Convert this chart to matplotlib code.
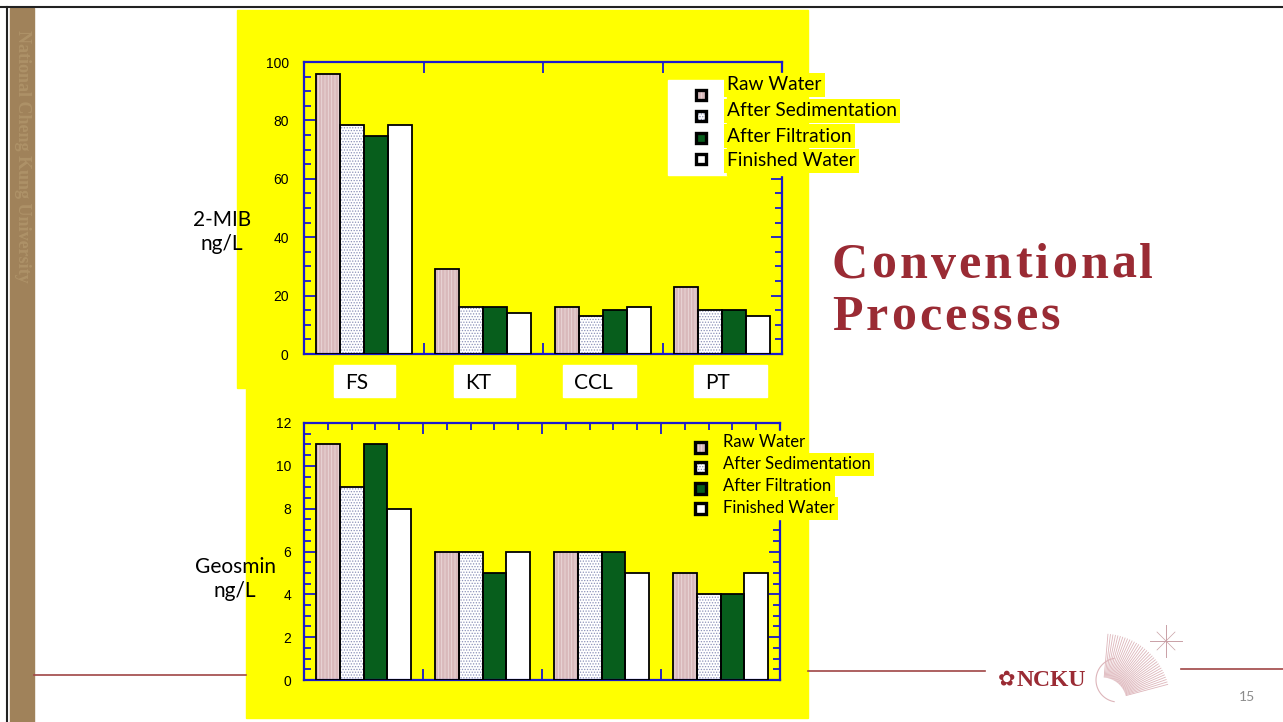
import numpy as np
import matplotlib.pyplot as plt
from matplotlib.patches import Rectangle
from matplotlib.ticker import MultipleLocator
from matplotlib.font_manager import FontProperties, findfont, get_font

W, H = 1283, 722

# data
sites = ['FS', 'KT', 'CCL', 'PT']
series = ['Raw Water', 'After Sedimentation', 'After Filtration', 'Finished Water']
mib_raw = [96, 29, 16, 23]
mib_sed = [78.5, 16, 13, 15]
mib_filt = [74.5, 16, 15, 15]
mib_fin = [78.5, 14, 16, 13]
geo_raw = [11, 6, 6, 5]
geo_sed = [9, 6, 6, 4]
geo_filt = [11, 5, 6, 4]
geo_fin = [8, 6, 5, 5]

# (face, hatch, hatch colour)
styles = [('#D9B9BB', '|||||', '#ECD9DA'),
          ('#FFFFFF', '......', '#8A90B8'),
          ('#075E1C', None, '#075E1C'),
          ('#FFFFFF', None, '#FFFFFF')]

plt.rcParams['hatch.linewidth'] = 0.6
blue = '#1A1ACC'
yellow = '#FFFF00'
dark_red = '#9A2B34'


def rect(x0, y0, x1, y1):
    return [x0 / W, 1 - y1 / H, (x1 - x0) / W, (y1 - y0) / H]


fig = plt.figure(figsize=(W / 100, H / 100), dpi=100)
fig.patch.set_facecolor('white')

# slide background
bg = fig.add_axes([0, 0, 1, 1], zorder=0)
bg.set_xlim(0, W)
bg.set_ylim(H, 0)
bg.axis('off')
bg.add_patch(Rectangle((10, 8), 24, H - 8, color='#A0825A'))
bg.text(22, 30, 'National Cheng Kung University', rotation=-90, ha='center', va='top',
        color='#AE9268', fontsize=13, family='Liberation Serif', fontweight='bold')
bg.plot([0, W], [7, 7], color='#222222', lw=1.5)
bg.plot([7, 7], [7, H], color='#222222', lw=1.5)
bg.add_patch(Rectangle((237, 10), 571, 378, color=yellow))
bg.add_patch(Rectangle((246, 388), 562, 330, color=yellow))
bg.plot([34, 246], [675, 675], color='#A04545', lw=1.2)
bg.plot([808, 985], [671, 671], color='#A04545', lw=1.2)
bg.plot([1181, W], [669, 669], color='#A04545', lw=1.2)
bg.text(1247, 697, '15', ha='center', va='center', color='#8C8C8C', fontsize=10, family='Lato')

# NCKU logo (approximate)
for a in np.linspace(15, 85, 34):
    t = np.deg2rad(a)
    bg.plot([1102 + 25 * np.cos(t), 1102 + 68 * np.cos(t)],
            [702 - 25 * np.sin(t), 702 - 68 * np.sin(t)], color='#DDB5BA', lw=0.6)
arc = np.deg2rad(np.linspace(100, 260, 40))
bg.plot(1118 + 22 * np.cos(arc), 680 + 22 * np.sin(arc), color='#DDB5BA', lw=0.8)
bg.plot([1150, 1182], [641, 641], color='#C9A0A6', lw=0.7)
bg.plot([1166, 1166], [625, 657], color='#C9A0A6', lw=0.7)
bg.plot([1157, 1175], [632, 650], color='#C9A0A6', lw=0.5)
bg.plot([1157, 1175], [650, 632], color='#C9A0A6', lw=0.5)
bg.text(1007, 679, '\u273f', ha='center', va='center', color=dark_red, fontsize=15,
        family='DejaVu Sans')
bg.text(1017, 680, 'NCKU', ha='left', va='center', color=dark_red, fontsize=17,
        family='Liberation Serif', fontweight='bold')

# title with letter spacing
tp = FontProperties(family='Liberation Serif', weight='bold', size=36)
ft = get_font(findfont(tp))
ft.set_size(36, 100)
for word, base in [('Conventional', 278), ('Processes', 330)]:
    x = 832
    for ch in word:
        bg.text(x, base, ch, fontproperties=tp, color=dark_red, ha='left', va='baseline')
        x += ft.load_char(ord(ch)).linearHoriAdvance / 65536 + 3.2

bg.text(222, 232, '2-MIB\nng/L', ha='center', va='center', fontsize=15, family='Lato',
        linespacing=1.3, zorder=5)
bg.text(235, 579, 'Geosmin\nng/L', ha='center', va='center', fontsize=15, family='Lato',
        linespacing=1.3, zorder=5)


def draw_bars(ax, data):
    for j, vals in enumerate(data):
        face, hatch, hc = styles[j]
        x = np.arange(len(sites)) + 0.2 * (j + 1)
        ax.bar(x, vals, width=0.2, color=face, hatch=hatch, edgecolor=hc, linewidth=0, zorder=2)
        ax.bar(x, vals, width=0.2, fill=False, edgecolor='black', linewidth=1.3, zorder=3)


def style_axes(ax):
    ax.set_facecolor('none')
    for s in ax.spines.values():
        s.set_color(blue)
        s.set_linewidth(1.6)
    ax.tick_params(which='both', direction='in', top=True, right=True, color=blue, width=1.3)
    ax.tick_params(which='major', length=8)
    ax.tick_params(which='minor', length=5)
    ax.tick_params(axis='x', labelbottom=False)
    for lb in ax.get_yticklabels():
        lb.set_family('Liberation Sans')
        lb.set_fontsize(10)


ax1 = fig.add_axes(rect(304, 62, 782, 354), zorder=2)
draw_bars(ax1, [mib_raw, mib_sed, mib_filt, mib_fin])
ax1.set_xlim(0, 4)
ax1.set_ylim(0, 100)
ax1.set_xticks(range(5))
ax1.yaxis.set_major_locator(MultipleLocator(20))
ax1.yaxis.set_minor_locator(MultipleLocator(5))
ax1.tick_params(axis='y', pad=11)
style_axes(ax1)

ax2 = fig.add_axes(rect(304, 423, 780, 680), zorder=2)
draw_bars(ax2, [geo_raw, geo_sed, geo_filt, geo_fin])
ax2.set_xlim(0, 4)
ax2.set_ylim(0, 12)
ax2.set_xticks(range(5))
ax2.xaxis.set_minor_locator(MultipleLocator(0.2))
ax2.yaxis.set_major_locator(MultipleLocator(2))
ax2.yaxis.set_minor_locator(MultipleLocator(0.5))
ax2.tick_params(axis='y', pad=9)
style_axes(ax2)

# overlay: category boxes and legends
ov = fig.add_axes([0, 0, 1, 1], zorder=5)
ov.set_xlim(0, W)
ov.set_ylim(H, 0)
ov.axis('off')
ov.patch.set_alpha(0)

box_left = [334, 454, 563, 694]
box_w = [61, 61, 73, 73]
for name, x0, w in zip(sites, box_left, box_w):
    ov.add_patch(Rectangle((x0, 365), w, 32, color='white'))
    ov.text(x0 + 11, 383, name, ha='left', va='center', fontsize=15, family='Lato')

ov.add_patch(Rectangle((668, 80), 59, 95, color='white'))
# highlighted legend blocks hide the right spine
ov.add_patch(Rectangle((727, 73), 60, 102, color=yellow))
ov.add_patch(Rectangle((723, 431), 62, 88, color=yellow))


def legend(x_mark, mark_ys, size, x_text, text_ys, fs):
    for j, name in enumerate(series):
        face, hatch, hc = styles[j]
        y = mark_ys[j]
        ov.add_patch(Rectangle((x_mark - size / 2, y - size / 2), size, size, facecolor=face,
                               hatch=hatch, edgecolor=hc, lw=0))
        ov.add_patch(Rectangle((x_mark - size / 2, y - size / 2), size, size, fill=False,
                               edgecolor='black', lw=2.4))
        ov.text(x_text, text_ys[j], name, ha='left', va='center', fontsize=fs, family='Lato',
                bbox=dict(facecolor=yellow, edgecolor='none', pad=2.5))


legend(701, [95, 116, 138, 159], 10, 727, [85, 111, 136, 161], 13.8)
legend(700, [447, 467, 488, 508], 11, 723, [442, 464, 486, 508], 12)

fig.savefig('out.png', dpi=100)
